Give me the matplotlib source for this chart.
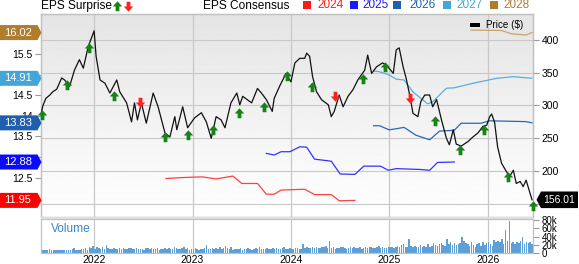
import numpy as np
import matplotlib
matplotlib.use('Agg')
import matplotlib.pyplot as plt
from matplotlib.patches import Polygon, Rectangle
from matplotlib.lines import Line2D
from matplotlib.path import Path
from matplotlib.transforms import blended_transform_factory as blend

plt.rcParams['font.family'] = ['Liberation Sans', 'DejaVu Sans']

W, H = 579, 264

# price ($), time as decimal year
price_t = [2021.46, 2021.48, 2021.51, 2021.55, 2021.58, 2021.62, 2021.67, 2021.70, 2021.75, 2021.80,
           2021.85, 2021.89, 2021.94, 2022.00, 2022.02, 2022.06, 2022.11, 2022.16, 2022.23, 2022.26,
           2022.33, 2022.38, 2022.41, 2022.44, 2022.48, 2022.53, 2022.60, 2022.65, 2022.72, 2022.77,
           2022.82, 2022.84, 2022.90, 2022.95, 2023.02, 2023.09, 2023.14, 2023.19, 2023.24, 2023.29,
           2023.33, 2023.39, 2023.45, 2023.48, 2023.51, 2023.60, 2023.66, 2023.70, 2023.75, 2023.81,
           2023.83, 2023.89, 2023.95, 2024.00, 2024.04, 2024.09, 2024.14, 2024.16, 2024.19, 2024.22,
           2024.26, 2024.31, 2024.38, 2024.41, 2024.44, 2024.49, 2024.53, 2024.58, 2024.63, 2024.68,
           2024.75, 2024.78, 2024.82, 2024.87, 2024.93, 2024.97, 2025.04, 2025.07, 2025.10, 2025.14,
           2025.17, 2025.21, 2025.24, 2025.29, 2025.32, 2025.36, 2025.41, 2025.44, 2025.48, 2025.53,
           2025.58, 2025.61, 2025.65, 2025.68, 2025.73, 2025.80, 2025.85, 2025.90, 2025.95, 2025.99,
           2026.02, 2026.04, 2026.07, 2026.10, 2026.14, 2026.19, 2026.22, 2026.26, 2026.29, 2026.33,
           2026.36, 2026.39, 2026.43, 2026.45]
price = [286, 300, 311, 316, 321, 325, 342, 339, 329, 354,
         370, 357, 390, 414, 375, 339, 334, 319, 339, 321,
         304, 275, 304, 278, 304, 273, 319, 298, 258, 252,
         283, 263, 298, 266, 281, 289, 275, 250, 283, 278,
         266, 304, 319, 301, 314, 304, 326, 319, 309, 291,
         311, 331, 349, 336, 365, 372, 372, 380, 375, 344,
         321, 309, 301, 283, 291, 316, 298, 314, 324, 339,
         354, 377, 349, 359, 365, 362, 349, 385, 388, 359,
         342, 314, 288, 283, 306, 316, 316, 298, 309, 278,
         250, 240, 263, 241, 238, 245, 252, 258, 268, 270,
         283, 287, 274, 237, 212, 199, 191, 201, 181, 184,
         176, 186, 166, 156.01]

# EPS surprise markers (placed on the price line)
beat_t = [2021.47, 2021.72, 2021.95, 2022.20, 2022.72, 2022.95, 2023.21, 2023.47, 2023.73,
          2023.96, 2024.21, 2024.73, 2024.96, 2025.46, 2025.72, 2025.96, 2026.21, 2026.46]
beat_p = [286, 331, 388, 315, 252, 255, 263, 289, 297,
          345, 328, 341, 359, 276, 232, 263, 191, 147]
miss_t = [2022.47, 2024.45, 2025.21]
miss_p = [306, 315, 311]

# EPS consensus by fiscal year
eps24_t = [2022.73, 2022.87, 2022.97, 2023.10, 2023.24, 2023.41, 2023.50, 2023.66, 2023.75,
           2023.83, 2023.90, 2024.14, 2024.24, 2024.41, 2024.49, 2024.65]
eps24 = [12.48, 12.50, 12.51, 12.52, 12.47, 12.54, 12.36, 12.36, 12.10,
         12.10, 12.20, 12.22, 12.09, 12.09, 11.94, 11.95]
eps25_t = [2023.75, 2023.83, 2023.90, 2023.99, 2024.09, 2024.16, 2024.24, 2024.41, 2024.50,
           2024.65, 2024.74, 2024.91, 2024.99, 2025.07, 2025.31, 2025.41, 2025.49, 2025.66]
eps25 = [13.09, 13.05, 13.13, 13.13, 13.25, 13.24, 12.95, 12.90, 12.59,
         12.58, 12.78, 12.78, 12.68, 12.72, 12.70, 12.68, 12.87, 12.88]
eps26_t = [2024.84, 2024.90, 2025.00, 2025.15, 2025.27, 2025.41, 2025.51, 2025.66, 2025.73,
           2025.93, 2026.02, 2026.39, 2026.45]
eps26 = [13.76, 13.76, 13.66, 13.72, 13.53, 13.42, 13.63, 13.65, 13.82,
         13.82, 13.88, 13.86, 13.83]
eps27_t = [2024.84, 2024.90, 2025.00, 2025.07, 2025.15, 2025.24, 2025.39, 2025.44, 2025.58,
           2025.66, 2025.85, 2026.09, 2026.26, 2026.45]
eps27 = [15.09, 15.07, 14.99, 14.89, 14.87, 14.58, 14.29, 14.34, 14.67,
         14.68, 14.79, 14.91, 14.95, 14.91]
eps28_t = [2025.83, 2026.14, 2026.24, 2026.39, 2026.45]
eps28 = [16.08, 16.07, 15.99, 15.96, 16.02]

# weekly volume (thousands), from mid 2021
volume = [
    8, 9, 7, 8, 10, 8, 7, 9, 8, 7, 8, 9, 8,
    8, 9, 8, 10, 12, 9, 8, 9, 11, 10, 13, 9, 16,
    12, 17, 10, 15, 12, 11, 14, 10, 21, 12, 10, 11, 12,
    10, 11, 12, 10, 12, 11, 10, 12, 13, 11, 10, 12, 10,
    11, 10, 9, 12, 13, 10, 12, 11, 10, 12, 9, 11, 10,
    12, 10, 13, 11, 10, 14, 12, 11, 10, 13, 16, 11, 12,
    9, 11, 10, 12, 10, 9, 11, 10, 12, 20, 11, 10, 13,
    11, 12, 10, 16, 11, 13, 18, 12, 10, 14, 9, 10, 11,
    10, 12, 9, 11, 10, 12, 10, 9, 11, 12, 10, 14, 10,
    11, 10, 12, 10, 11, 13, 10, 12, 11, 10, 13, 15, 11,
    10, 12, 11, 10, 12, 13, 11, 10, 22, 12, 14, 13, 12,
    15, 12, 14, 13, 12, 16, 14, 17, 13, 30, 12, 14, 11,
    13, 12, 15, 14, 12, 11, 13, 15, 12, 14, 13, 12, 14,
    11, 13, 15, 12, 14, 16, 12, 13, 15, 17, 12, 14, 13,
    12, 15, 14, 16, 13, 15, 18, 14, 20, 22, 16, 14, 34,
    18, 15, 17, 14, 16, 20, 15, 18, 16, 22, 14, 17, 25,
    20, 18, 22, 24, 20, 18, 34, 22, 26, 20, 24, 20, 22,
    24, 39, 30, 24, 22, 18, 26, 20, 16, 22, 24, 18, 28,
    20, 24, 28, 22, 18, 32, 26, 30, 28, 34, 22, 55, 30,
    78, 24, 26, 22, 28, 24, 30, 38, 22, 26, 24, 28, 22,
]
vol_t = 2021.47 + np.arange(len(volume)) / 52

years = [2022, 2023, 2024, 2025, 2026]
eps_ticks = [12.0, 12.5, 13.0, 13.5, 14.0, 14.5, 15.0, 15.5, 16.0]
eps_tick_labels = ['', '12.5', '', '13.5', '14', '14.5', '', '15.5', '']
price_ticks = [150, 200, 250, 300, 350, 400]
price_tick_labels = ['', '200', '250', '300', '350', '400']
vol_ticks = [0, 20, 40, 60, 80]
vol_tick_labels = ['0', '20k', '40k', '60k', '80k']

c24, c25, c26, c27, c28 = '#ff1a1a', '#1a1aff', '#1f5fae', '#44a6d8', '#b07c2e'
l24, l25, l26, l27, l28 = '#ff4040', '#3333ff', '#2a66b8', '#5aaee0', '#c9a46e'
green, red = '#178217', '#ff2020'
gridc = '#c8c8c8'
spc = '#c0c0c0'

up = Path([(-1, 0), (0, 1.1), (1, 0), (0.4, 0), (0.4, -1), (-0.4, -1), (-0.4, 0), (-1, 0)], closed=True)
down = Path([(-1, 0), (0, -1.1), (1, 0), (0.4, 0), (0.4, 1), (-0.4, 1), (-0.4, 0), (-1, 0)], closed=True)

fig = plt.figure(figsize=(W / 100, H / 100), dpi=100)


def box(top, bottom):
    return [41 / W, 1 - bottom / H, 492 / W, (bottom - top) / H]


ax = fig.add_axes(box(14, 216.5))
ax2 = ax.twinx()
vax = fig.add_axes(box(218.7, 253.3))

xlim = (2021.46, 2026.46)
eps_lim = (11.559, 16.47)
price_lim = (130.5, 439.7)

# background gradient
ax.imshow(np.linspace(0.895, 1.0, 256).reshape(-1, 1), cmap='gray', vmin=0, vmax=1,
          extent=[0, 1, 0, 1], transform=ax.transAxes, aspect='auto', zorder=0)

# grid
gtr = blend(ax.transAxes, ax2.transData)
for p in price_ticks:
    ax.plot([0, 1], [p, p], transform=gtr, color=gridc, lw=0.8, zorder=0.5)
for y in years:
    ax.axvline(y, color=gridc, lw=0.9, zorder=0.5)
    vax.axvline(y, color=gridc, lw=0.9, zorder=0.5)

# consensus lines
ax.plot(eps24_t, eps24, color=l24, lw=0.9, zorder=2)
ax.plot(eps25_t, eps25, color=l25, lw=0.9, zorder=2)
ax.plot(eps26_t, eps26, color=l26, lw=0.9, zorder=2)
ax.plot(eps27_t, eps27, color=l27, lw=0.9, zorder=2)
ax.plot(eps28_t, eps28, color=l28, lw=0.9, zorder=2)

# price + surprise markers
ax2.plot(price_t, price, color='#111111', lw=0.9, zorder=3)
ax2.plot(beat_t, beat_p, ls='none', marker=up, ms=7.5, color=green, mec=green, mew=0, zorder=4, clip_on=False)
ax2.plot(miss_t, miss_p, ls='none', marker=down, ms=7.5, color=red, mec=red, mew=0, zorder=4, clip_on=False)

ax.set_xlim(*xlim)
ax.set_ylim(*eps_lim)
ax2.set_ylim(*price_lim)
ax2.set_xlim(*xlim)

ax.set_yticks(eps_ticks)
ax.set_yticklabels(eps_tick_labels)
ax.tick_params(axis='y', labelsize=7.5, length=4, width=0.8, color='#999999', pad=2.2)
ax.tick_params(axis='x', length=0, labelbottom=False)
ax2.set_yticks(price_ticks)
ax2.set_yticklabels(price_tick_labels)
ax2.tick_params(axis='y', labelsize=7.5, length=4, width=0.8, color='#999999', pad=2)

# volume
vax.set_facecolor('white')
vax.bar(vol_t, volume, width=0.8 / 52, color='#5d9fd8', zorder=2)
vax.set_xlim(*xlim)
vax.set_ylim(0, 83)
vax.yaxis.tick_right()
vax.set_yticks(vol_ticks)
vax.set_yticklabels(vol_tick_labels)
vax.tick_params(axis='y', labelsize=7, length=4, width=0.8, color='#999999', pad=2)
vax.set_xticks(years)
vax.set_xticklabels([str(y) for y in years])
vax.tick_params(axis='x', labelsize=7.5, length=0, pad=1.2)
fig.text(51 / W, 1 - 228.5 / H, 'Volume', color='#3a88c8', fontsize=8.6, va='center')

for a in (ax, ax2, vax):
    for s in a.spines.values():
        s.set_color(spc)
        s.set_linewidth(0.9)

# separator band
fig.add_artist(Rectangle((41 / W, 1 - 218.7 / H), 492 / W, 2.2 / H, transform=fig.transFigure,
                         fc='#dedede', ec='none'))

# left value tags
etr = blend(fig.transFigure, ax.transData)
hh = 7.5 / 41.23
for val, col, txt in [(16.02, c28, '16.02'), (14.91, c27, '14.91'), (13.83, c26, '13.83'),
                      (12.88, '#0a0aff', '12.88'), (11.95, '#ff0000', '11.95')]:
    fig.add_artist(Polygon([(0, val - hh), (37.5 / W, val - hh), (41.5 / W, val),
                            (37.5 / W, val + hh), (0, val + hh)], closed=True,
                           transform=etr, fc=col, ec='none'))
    fig.text(18 / W, val, txt, transform=etr, color='white', fontsize=8,
             ha='center', va='center')

# right price tag
ptr = blend(fig.transFigure, ax2.transData)
ph = 8.3 / 0.655
pv = 156.01
fig.add_artist(Polygon([(536.5 / W, pv), (541 / W, pv - ph), (578 / W, pv - ph),
                        (578 / W, pv + ph), (541 / W, pv + ph)], closed=True,
                       transform=ptr, fc='black', ec='none'))
fig.text(559 / W, pv, '156.01', transform=ptr, color='white', fontsize=7.5,
         ha='center', va='center')


# top legend
def fy(y):
    return 1 - y / H


fig.text(41 / W, fy(6.3), 'EPS Surprise', fontsize=8.6, va='center')
fig.add_artist(Line2D([117 / W], [fy(6.3)], marker=up, ms=7.5, color=green, mew=0,
                      transform=fig.transFigure))
fig.add_artist(Line2D([127.5 / W], [fy(6.3)], marker=down, ms=7.5, color=red, mew=0,
                      transform=fig.transFigure))
fig.text(203 / W, fy(6), 'EPS Consensus', fontsize=8.6, va='center')

for sx, tx, col, lab in [(303.3, 317.3, c24, '2024'), (350, 362.7, c25, '2025'),
                         (393.3, 409.3, c26, '2026'), (443.3, 456.7, c27, '2027'),
                         (490, 503.3, c28, '2028')]:
    fig.add_artist(Rectangle((sx / W, fy(8.5)), 8 / W, 7.5 / H, transform=fig.transFigure,
                             fc=col, ec='none'))
    fig.text(tx / W, fy(5.5), lab, color=col, fontsize=8.5, va='center')

# price legend
fig.add_artist(Rectangle((470 / W, fy(26.8)), 10 / W, 4 / H, transform=fig.transFigure,
                         fc='black', ec='none'))
fig.text(486 / W, fy(25), 'Price ($)', fontsize=7.1, va='center')

fig.savefig('out.png', dpi=100)
